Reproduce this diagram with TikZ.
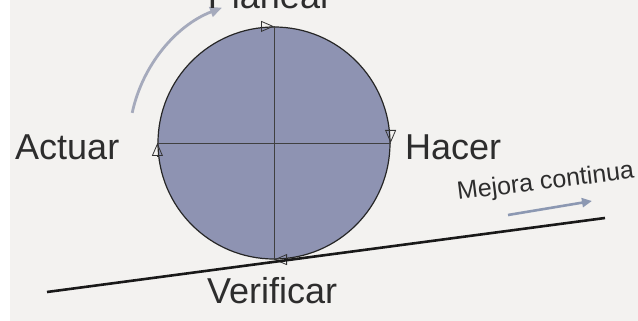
\documentclass[tikz,border=0pt]{standalone}
\usepackage{fontspec}
\setmainfont{Liberation Sans}
\usetikzlibrary{arrows.meta}
\definecolor{bg}{RGB}{243,242,240}
\definecolor{disc}{RGB}{142,147,178}
\definecolor{arcgray}{RGB}{165,170,188}
\definecolor{arrowblue}{RGB}{140,152,178}
\definecolor{txt}{RGB}{45,45,45}
\begin{document}
\begin{tikzpicture}[x=1pt,y=1pt,
  lbl/.style={font=\fontsize{36}{40}\selectfont, text=txt, inner sep=0pt},
  tri/.style={-{Triangle[open,length=13pt,width=11pt]}, line width=0.8pt, draw=black!80},
  cross/.style={line width=0.8pt, draw=black!75}]
\useasboundingbox (0,0) rectangle (638,321);
\clip (0,0) rectangle (638,321);
\fill[white] (0,0) rectangle (638,321);
\fill[bg] (10,0) rectangle (638,321);
% disc
\node[circle, minimum size=232pt, inner sep=0pt, fill=disc, draw=black!85, line width=1.2pt] (c) at (274,178) {};
\draw[cross] (c.north) -- (c.south);
\draw[cross] (c.west) -- (c.east);
% clockwise arrowheads
\draw[tri] ([xshift=-13pt]c.north) -- (c.north);
\draw[tri] ([yshift=13pt]c.east) -- (c.east);
\draw[tri] ([xshift=13pt]c.south) -- (c.south);
\draw[tri] ([yshift=-13pt]c.west) -- (c.west);
% incline
\coordinate (l1) at (47,29);
\coordinate (l2) at (605,103);
\draw[line width=2.6pt, black!90] (l1) -- (l2);
% curved gray arrow
\coordinate (a1) at (132.2,208.1);
\draw[arcgray, line width=2.8pt, -{Triangle[length=12pt,width=10pt]}] (a1) arc[start angle=168, end angle=111, radius=145];
% mejora arrow
\coordinate (m1) at (508,106);
\coordinate (m2) at (592,120);
\draw[arrowblue, line width=2.6pt, -{Triangle[length=10pt,width=9pt]}] (m1) -- (m2);
% labels
\node[lbl, anchor=base] (plan) at (270,312) {Planear};
\node[lbl, anchor=base west] (act) at (15,161) {Actuar};
\node[lbl, anchor=base west] (hac) at (405,161) {Hacer};
\node[lbl, anchor=base west] (ver) at (207,17) {Verificar};
\node[font=\fontsize{25}{28}\selectfont, text=txt, inner sep=0pt, anchor=base west, rotate=7] (mej) at (458,121) {Mejora continua};
\end{tikzpicture}
\end{document}
